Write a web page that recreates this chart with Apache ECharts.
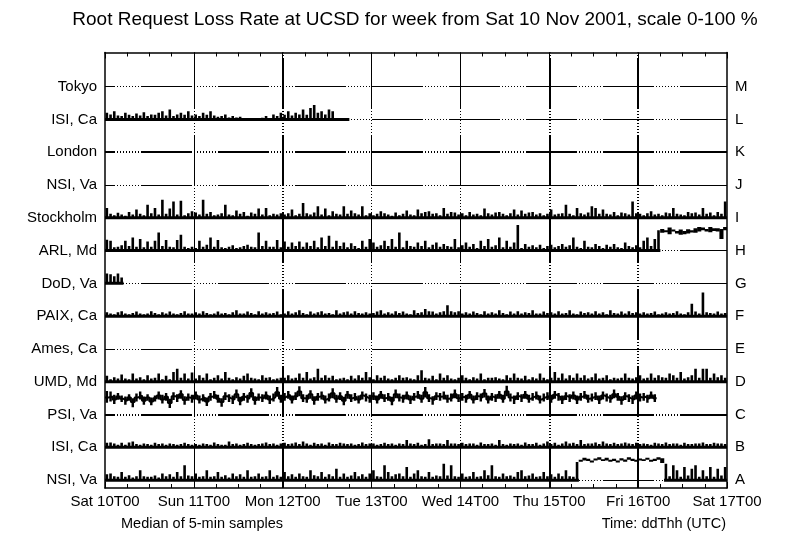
<!DOCTYPE html>
<html><head><meta charset="utf-8">
<script src="https://cdn.jsdelivr.net/npm/echarts@6/dist/echarts.min.js"></script>
<style>html,body{margin:0;padding:0;background:#fff}#c{width:800px;height:552px}</style>
</head><body><div id="c"></div>
<script>
const FONT = '"Liberation Sans", Arial, Helvetica, sans-serif';
const titleText = 'Root Request Loss Rate at UCSD for week from Sat 10 Nov 2001, scale 0-100 %';
const footLeft = 'Median of 5-min samples';
const footRight = 'Time: ddThh (UTC)';
const dayLabels = ['Sat 10T00','Sun 11T00','Mon 12T00','Tue 13T00','Wed 14T00','Thu 15T00','Fri 16T00','Sat 17T00'];
const rowNames = ['NSI, Va','ISI, Ca','PSI, Va','UMD, Md','Ames, Ca','PAIX, Ca','DoD, Va','ARL, Md','Stockholm','NSI, Va','London','ISI, Ca','Tokyo'];
const rowLetters = ['A','B','C','D','E','F','G','H','I','J','K','L','M'];

// hourly peak loss (%) per root server, hour 0 = Sat 10 00:00 UTC
const lossNSI_A = [
18,20,12,10,25,10,15,8,12,30,12,10,10,14,8,20,12,18,10,25,12,45,14,12,
20,10,12,30,10,12,25,10,15,8,20,12,18,10,30,10,12,20,10,12,30,10,15,10,
25,12,18,10,20,12,10,30,15,12,25,10,18,12,35,10,20,10,14,25,12,18,10,20,
30,12,10,45,25,12,18,20,12,40,10,20,30,12,10,25,10,14,12,50,14,45,12,10,
20,10,12,25,10,12,30,15,45,12,10,20,12,14,10,25,30,12,14,20,10,12,25,12,
18,10,20,12,30,12,10,55,62,68,65,60,66,70,64,68,62,65,60,67,63,70,65,62,
66,64,68,62,65,70,67,50,12,45,30,10,40,14,35,45,10,30,12,40,10,35,14,40];
// hourly low loss (%) where the loss stayed high
const lowNSI_A = [
0,0,0,0,0,0,0,0,0,0,0,0,0,0,0,0,0,0,0,0,0,0,0,0,
0,0,0,0,0,0,0,0,0,0,0,0,0,0,0,0,0,0,0,0,0,0,0,0,
0,0,0,0,0,0,0,0,0,0,0,0,0,0,0,0,0,0,0,0,0,0,0,0,
0,0,0,0,0,0,0,0,0,0,0,0,0,0,0,0,0,0,0,0,0,0,0,0,
0,0,0,0,0,0,0,0,0,0,0,0,0,0,0,0,0,0,0,0,0,0,0,0,
0,0,0,0,0,0,0,0,56,60,58,54,60,62,58,60,56,58,54,60,56,62,58,56,
60,58,62,56,58,62,52,0,0,0,0,0,0,0,0,0,0,0,0,0,0,0,0,0];
const lossISI_B = [
14,15,12,8,14,8,15,18,10,8,12,10,8,14,10,12,8,12,10,8,10,14,10,8,
10,8,12,10,8,15,10,8,8,18,10,12,8,10,14,10,8,10,12,15,10,12,8,12,
14,10,12,15,10,18,12,8,14,10,12,8,15,10,10,14,12,10,12,8,10,15,10,12,
12,8,10,14,10,12,8,12,10,22,12,10,14,8,10,25,10,12,12,10,22,12,12,10,
14,10,12,12,8,15,10,10,12,8,22,10,8,12,10,12,8,15,10,10,14,8,12,18,
10,14,8,12,18,12,14,10,22,10,12,12,15,10,18,12,10,14,10,12,15,12,10,14,
10,12,10,8,14,12,10,15,10,12,12,8,14,10,10,12,12,15,10,10,14,12,12,10];
const lossPSI_C = [
72,70,60,66,58,55,62,50,64,70,55,62,52,58,70,60,66,48,68,62,74,56,64,60,
70,58,62,52,66,72,60,50,68,62,58,76,54,66,60,80,56,64,62,70,58,64,84,60,
66,72,58,68,86,62,60,74,56,66,70,58,64,80,60,68,54,72,62,66,58,70,64,60,
68,58,72,62,66,54,76,64,60,70,58,66,72,60,84,62,56,68,66,70,60,64,76,62,
66,60,72,58,68,64,78,58,66,62,72,60,88,64,58,68,62,72,60,66,70,58,64,68,
60,72,66,58,68,62,70,58,66,72,60,64,68,58,70,64,60,76,66,56,68,62,58,70,
64,66,60,70,62];
const midPSI_C = [
52,55,46,55,48,42,52,38,52,58,42,52,40,50,58,46,54,35,56,50,62,44,52,48,
58,46,52,40,54,60,48,38,56,50,46,62,42,54,48,66,44,52,50,58,46,52,68,48,
54,60,46,56,70,50,48,62,44,54,58,46,52,65,48,56,42,60,50,54,46,58,52,48,
56,46,60,50,54,42,62,52,48,58,46,54,60,48,68,50,44,56,54,58,48,52,62,50,
54,48,60,46,56,52,64,46,54,50,60,48,70,52,46,56,50,60,48,54,58,46,52,56,
48,60,54,46,56,50,58,46,54,60,48,52,56,46,58,52,48,62,54,44,56,50,46,58,
52,54,48,58,50];
const lowPSI_C = [
36,40,32,45,38,30,42,22,40,46,30,42,28,40,46,34,42,20,44,38,48,30,42,36,
46,34,40,26,42,48,36,24,44,38,32,50,28,42,36,52,30,42,38,46,32,40,54,36,
42,48,34,44,56,38,36,48,30,42,46,34,40,50,36,44,28,48,38,42,34,46,40,36,
44,34,48,38,42,28,50,40,36,46,32,42,48,36,52,38,30,44,42,46,36,40,50,38,
42,36,48,34,44,40,52,34,42,38,48,36,56,40,32,44,38,48,36,42,46,34,40,44,
36,48,42,32,44,38,46,32,42,48,36,40,44,32,46,40,36,50,42,30,44,38,32,46,
40,42,36,48,38];
const lossUMD_D = [
18,8,14,10,22,10,8,25,10,14,8,20,10,12,25,8,18,8,30,40,12,25,10,28,
10,20,12,25,8,12,20,10,30,12,8,14,10,18,25,12,10,8,20,12,14,8,10,12,
12,20,10,12,25,12,30,10,14,40,12,20,12,18,8,10,12,8,18,10,20,12,30,14,
8,20,12,18,10,8,12,20,12,14,10,8,20,35,12,10,18,8,25,12,20,10,8,12,
20,12,8,14,10,25,8,12,12,14,10,8,20,12,25,12,10,18,8,14,10,25,12,8,
12,30,12,25,10,20,12,25,12,20,10,14,25,10,12,20,8,12,10,12,25,12,10,14,
20,10,12,25,12,20,14,12,25,20,12,30,10,14,20,40,12,40,40,12,25,14,20,12];
const lossPAIX_F = [
12,8,6,12,15,8,6,10,14,8,6,8,15,10,6,12,8,14,8,6,10,15,8,8,
12,8,15,10,6,8,14,8,10,6,12,18,8,8,14,10,6,15,8,12,8,10,14,6,
8,15,8,12,18,10,6,14,8,12,15,8,10,6,18,8,12,14,8,15,10,8,12,8,
10,14,18,8,12,8,15,10,14,8,6,18,10,12,22,15,14,8,12,15,33,15,12,15,
8,12,8,14,10,6,15,8,12,8,18,10,6,14,8,15,8,12,10,18,8,8,14,10,
12,8,15,8,10,18,8,6,14,10,12,8,15,8,12,6,18,10,8,14,8,15,10,12,
8,12,8,10,14,6,8,12,8,10,15,8,6,12,38,14,8,72,12,10,8,14,8,10];
const lossDoD_G = [30,28,22,30,18];
const lossARL_H = [
33,30,10,12,16,30,14,40,12,35,10,28,12,30,55,14,32,12,10,32,48,12,8,12,
8,30,12,18,40,12,32,10,8,12,16,8,10,14,18,12,10,55,14,30,12,12,32,10,
28,12,25,14,28,12,25,14,30,10,40,14,45,12,30,14,25,10,22,14,8,30,12,35,
25,12,16,30,14,35,12,55,10,30,14,12,25,14,30,10,18,25,12,20,14,12,35,10,
16,25,12,20,8,30,14,35,12,16,40,10,30,12,25,78,8,20,12,16,10,18,8,14,
18,10,14,20,12,16,40,12,8,30,12,10,20,14,8,18,12,20,10,8,25,14,10,16,
10,30,40,14,35,62,66,62,70,64,60,64,60,65,62,68,72,70,66,72,68,68,66,72];
const lowARL_H = [
0,0,0,0,0,0,0,0,0,0,0,0,0,0,0,0,0,0,0,0,0,0,0,0,
0,0,0,0,0,0,0,0,0,0,0,0,0,0,0,0,0,0,0,0,0,0,0,0,
0,0,0,0,0,0,0,0,0,0,0,0,0,0,0,0,0,0,0,0,0,0,0,0,
0,0,0,0,0,0,0,0,0,0,0,0,0,0,0,0,0,0,0,0,0,0,0,0,
0,0,0,0,0,0,0,0,0,0,0,0,0,0,0,0,0,0,0,0,0,0,0,0,
0,0,0,0,0,0,0,0,0,0,0,0,0,0,0,0,0,0,0,0,0,0,0,0,
0,0,0,0,0,0,54,56,50,58,52,48,50,52,55,54,58,62,58,56,60,58,35,62];
const lossStockholm_I = [
30,12,8,15,10,6,18,10,25,12,8,40,14,30,10,55,12,28,50,10,52,8,14,20,
16,10,55,12,18,8,10,14,40,10,8,22,12,18,6,16,12,28,10,30,8,12,10,14,
10,14,25,8,12,45,14,10,16,35,10,28,8,20,12,10,35,12,22,14,10,35,8,14,
8,12,20,14,10,6,16,8,12,22,10,8,25,14,18,20,12,14,8,30,12,18,16,10,
14,8,18,10,12,8,28,14,10,16,18,12,8,14,25,10,22,12,16,18,10,14,8,12,
25,10,12,14,40,12,8,30,14,10,16,35,30,12,25,12,10,18,8,16,14,10,50,14,
12,8,14,20,10,12,8,16,14,30,12,10,8,18,14,16,10,30,12,16,8,18,12,50];
const lossISI_L = [
20,15,25,12,10,20,14,10,18,12,22,10,15,14,20,25,12,30,10,15,20,14,25,12,
15,10,20,14,25,12,8,10,15,6,10,6,8,0,4,0,4,0,5,10,4,15,10,20,
14,25,12,20,15,30,14,35,44,20,25,15,30,25,0,0,0,0];

// [row index, hourly peak, hourly low (optional), hourly median line (optional)]
const rowData = [
  [0, lossNSI_A, lowNSI_A, null], [1, lossISI_B, null, null], [2, lossPSI_C, lowPSI_C, midPSI_C],
  [3, lossUMD_D, null, null], [5, lossPAIX_F, null, null], [6, lossDoD_G, null, null],
  [7, lossARL_H, lowARL_H, null], [8, lossStockholm_I, null, null], [11, lossISI_L, null, null]
];
const thickDays = [2, 5, 6];
const HOURS = 168;

// grid line dash: long solid stroke followed by a dotted stretch
const DASH = [51, 2,1,2,1,2,1,2,1,2,1,2,1,2,1,2,1,2];

function baselinePoints(row, n, lo) {
  const pts = [];
  for (let h = 0; h < n; h++) {
    const z = !lo || lo[h] === 0;
    const prevZ = h > 0 && (!lo || lo[h - 1] === 0);
    if (z) {
      if (!prevZ) { if (pts.length) pts.push([h, '-']); pts.push([h, row]); }
      pts.push([h + 1, row]);
    }
  }
  return pts;
}

function makeRenderer(bandFrac) {
  return function (params, api) {
    const h = api.value(0);
    const yTop = api.coord([h, api.value(1)])[1];
    const yBot = api.coord([h, api.value(2)])[1];
    const banded = api.value(3) > 0;
    const xL = api.coord([h, 0])[0];
    const xR = api.coord([h + 1, 0])[0];
    const w = banded ? (xR - xL) * bandFrac + 0.4 : 2.6;
    const x0 = (xL + xR) / 2 - w / 2;
    return { type: 'rect', shape: { x: x0, y: yTop, width: w, height: Math.max(yBot - yTop, 1.5) },
             style: { fill: '#000' } };
  };
}

const series = [];
series.push({
  type: 'line', data: [], z: 1, silent: true, animation: false,
  markLine: {
    symbol: ['none', 'none'], silent: true, animation: false, label: { show: false },
    lineStyle: { color: '#000', width: 1, type: DASH, dashOffset: 41 },
    data: rowLetters.map((_, i) => ({ yAxis: i, lineStyle: { color: '#000', width: (i === 10 || i === 2) ? 2 : 1, type: DASH, dashOffset: 41 } }))
  }
});
series.push({
  type: 'line', data: [], z: 1, silent: true, animation: false,
  markLine: {
    symbol: ['none', 'none'], silent: true, animation: false, label: { show: false },
    lineStyle: { color: '#000', width: 1, type: DASH, dashOffset: 6 },
    data: dayLabels.slice(1, 7).map((_, k) => ({ xAxis: (k + 1) * 24, lineStyle: { color: '#000', width: thickDays.includes(k + 1) ? 2 : 1, type: DASH, dashOffset: 6 } }))
  }
});
rowData.forEach(([row, hi, lo, mid]) => {
  series.push({
    type: 'line', data: baselinePoints(row, hi.length, lo), showSymbol: false, symbol: 'none',
    connectNulls: false, z: 3, silent: true, animation: false,
    lineStyle: { color: '#000', width: 3 }
  });
  if (mid) {
    const pts = mid.map((v, h) => [h, row + v / 100]);
    pts.push([mid.length, row + mid[mid.length - 1] / 100]);
    series.push({
      type: 'line', data: pts, step: 'end', showSymbol: false, symbol: 'none',
      z: 3, silent: true, animation: false, lineStyle: { color: '#000', width: 2 }
    });
  }
  series.push({
    type: 'custom', z: 4, silent: true, animation: false, clip: true,
    renderItem: makeRenderer(mid ? 0.55 : 1),
    encode: { x: 0, y: 1 },
    data: hi.map((v, h) => {
      const l = lo ? lo[h] : 0;
      return [h, row + v / 100, row + l / 100, l];
    })
  });
});

const tickStyle = { color: '#000', width: 1 };
function xAx(pos, labels) {
  return {
    type: 'value', min: 0, max: HOURS, interval: 24, position: pos,
    axisLine: { show: true, onZero: false, lineStyle: { color: '#000', width: 1.5 } },
    axisTick: { show: true, inside: true, length: 6, lineStyle: tickStyle },
    minorTick: { show: true, splitNumber: 4, length: 4, lineStyle: tickStyle },
    splitLine: { show: false }, minorSplitLine: { show: false },
    axisLabel: labels ? { show: true, color: '#000', fontSize: 15, fontFamily: FONT, margin: 6,
      formatter: v => dayLabels[Math.round(v / 24)] } : { show: false }
  };
}
function yAx(pos, names) {
  return {
    type: 'value', min: -0.24, max: 13.04, position: pos,
    axisLine: { show: true, onZero: false, lineStyle: { color: '#000', width: 1.5 } },
    axisTick: { show: false }, splitLine: { show: false },
    axisLabel: { show: true, color: '#000', fontSize: 15, fontFamily: FONT, margin: 8,
      customValues: names.map((_, i) => i), formatter: v => names[Math.round(v)] }
  };
}

const chart = echarts.init(document.getElementById('c'), null, { renderer: 'canvas' });
chart.setOption({
  animation: false,
  backgroundColor: '#fff',
  grid: { left: 105, right: 73, top: 52.5, bottom: 64, containLabel: false },
  xAxis: [xAx('bottom', true), xAx('top', false)],
  yAxis: [yAx('left', rowNames), yAx('right', rowLetters)],
  graphic: [
    { type: 'text', x: 415, y: 20, style: { text: titleText, fill: '#000', fontSize: 19, fontFamily: FONT, textAlign: 'center', textVerticalAlign: 'middle' } },
    { type: 'text', x: 121, y: 524, style: { text: footLeft, fill: '#000', fontSize: 14.5, fontFamily: FONT, textAlign: 'left', textVerticalAlign: 'middle' } },
    { type: 'text', x: 726, y: 524, style: { text: footRight, fill: '#000', fontSize: 14.5, fontFamily: FONT, textAlign: 'right', textVerticalAlign: 'middle' } }
  ],
  series: series
});
</script></body></html>
